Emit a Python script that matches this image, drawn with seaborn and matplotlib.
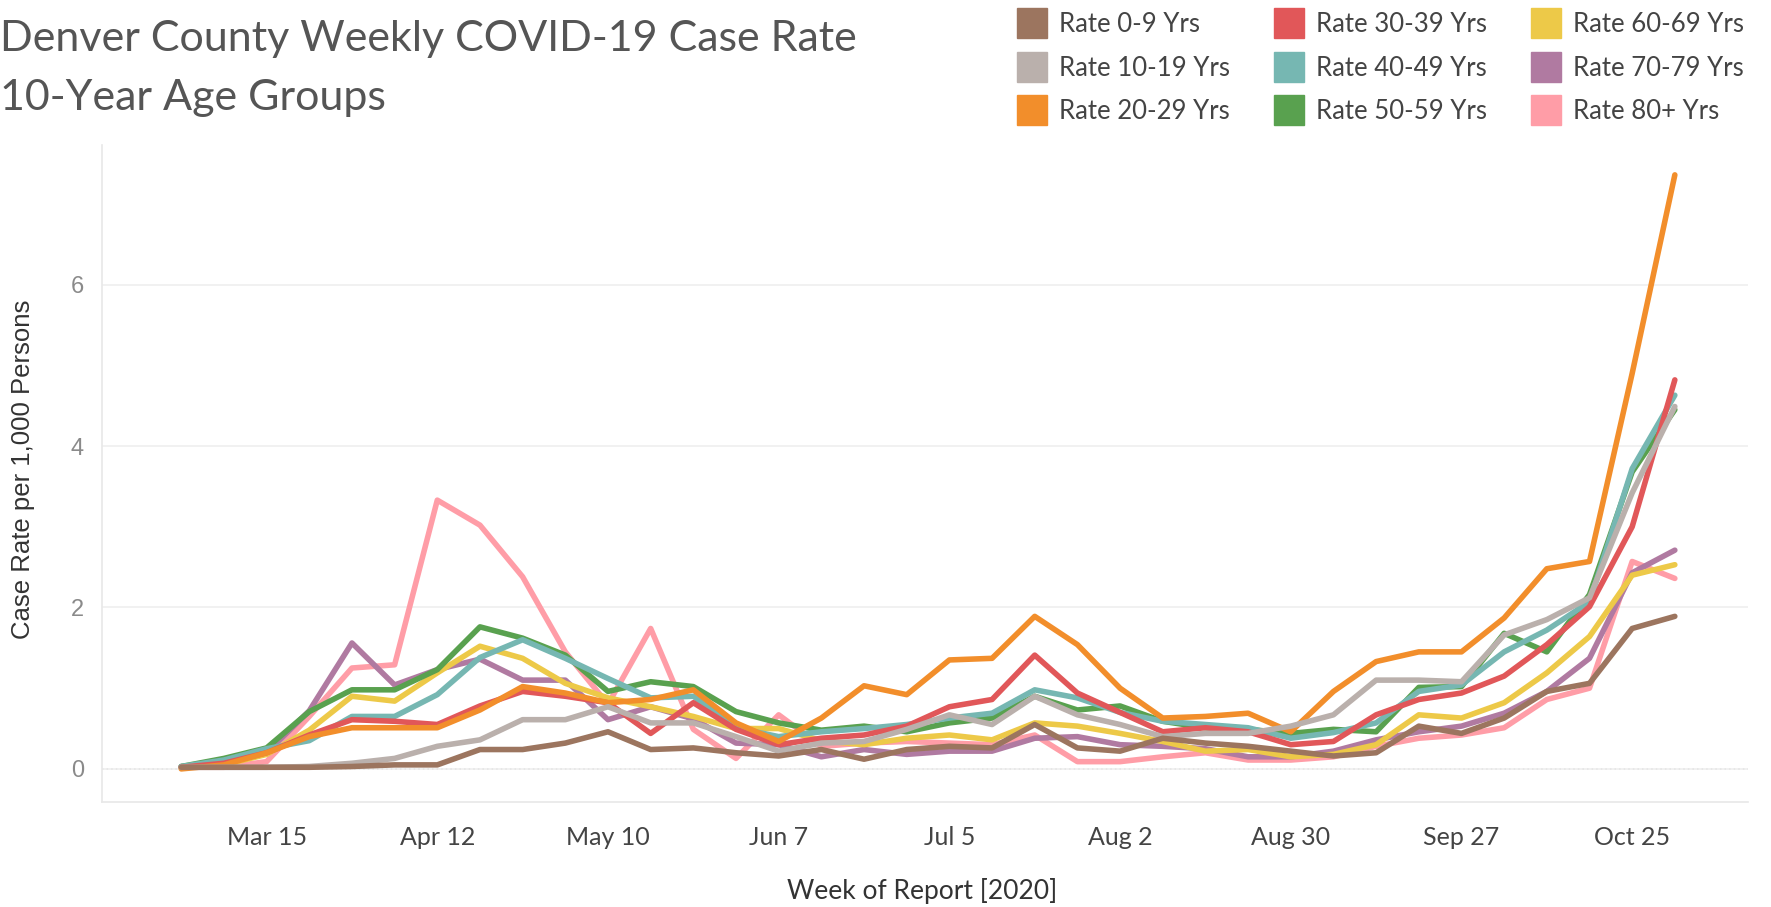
import numpy as np
import pandas as pd
import matplotlib
matplotlib.use("Agg")
import matplotlib.pyplot as plt
import matplotlib.dates as mdates
from matplotlib.lines import Line2D
import seaborn as sns

# ---------------- data ----------------
week_start = "2020-03-01"
n_weeks = 36
weeks = pd.date_range(week_start, periods=n_weeks, freq="7D")

groups = ["Rate 0-9 Yrs", "Rate 10-19 Yrs", "Rate 20-29 Yrs",
          "Rate 30-39 Yrs", "Rate 40-49 Yrs", "Rate 50-59 Yrs",
          "Rate 60-69 Yrs", "Rate 70-79 Yrs", "Rate 80+ Yrs"]

rate_0_9 = [0.02, 0.02, 0.02, 0.02, 0.03, 0.05, 0.05, 0.24, 0.24, 0.32, 0.46, 0.24,
            0.26, 0.20, 0.16, 0.24, 0.12, 0.24, 0.28, 0.26, 0.55, 0.26, 0.22, 0.38,
            0.32, 0.28, 0.22, 0.16, 0.20, 0.53, 0.44, 0.63, 0.96, 1.06, 1.74, 1.89]
rate_10_19 = [0.02, 0.02, 0.02, 0.03, 0.07, 0.13, 0.28, 0.36, 0.61, 0.61, 0.77, 0.57,
              0.57, 0.40, 0.22, 0.32, 0.34, 0.49, 0.67, 0.55, 0.90, 0.67, 0.55, 0.40,
              0.44, 0.44, 0.53, 0.67, 1.10, 1.10, 1.08, 1.66, 1.85, 2.12, 3.42, 4.49]
rate_20_29 = [0.00, 0.05, 0.20, 0.40, 0.51, 0.51, 0.51, 0.73, 1.02, 0.94, 0.82, 0.86,
              0.98, 0.57, 0.34, 0.63, 1.03, 0.92, 1.35, 1.37, 1.89, 1.54, 1.00, 0.63,
              0.65, 0.69, 0.46, 0.96, 1.33, 1.45, 1.45, 1.87, 2.48, 2.57, 4.90, 7.36]
rate_30_39 = [0.02, 0.07, 0.20, 0.42, 0.61, 0.59, 0.55, 0.78, 0.96, 0.90, 0.82, 0.44,
              0.82, 0.49, 0.30, 0.38, 0.42, 0.53, 0.77, 0.86, 1.41, 0.94, 0.70, 0.46,
              0.51, 0.46, 0.30, 0.34, 0.67, 0.86, 0.94, 1.15, 1.54, 2.01, 3.00, 4.82]
rate_40_49 = [0.03, 0.11, 0.25, 0.35, 0.65, 0.65, 0.92, 1.38, 1.60, 1.37, 1.12, 0.88,
              0.90, 0.51, 0.40, 0.46, 0.50, 0.55, 0.63, 0.69, 0.98, 0.88, 0.70, 0.59,
              0.55, 0.51, 0.38, 0.45, 0.57, 0.96, 1.04, 1.45, 1.72, 2.07, 3.72, 4.63]
rate_50_59 = [0.03, 0.13, 0.26, 0.71, 0.98, 0.98, 1.23, 1.76, 1.62, 1.41, 0.96, 1.08,
              1.02, 0.71, 0.57, 0.48, 0.53, 0.46, 0.57, 0.63, 0.90, 0.73, 0.78, 0.59,
              0.51, 0.49, 0.44, 0.49, 0.46, 1.01, 1.02, 1.68, 1.45, 2.16, 3.68, 4.45]
rate_60_69 = [0.02, 0.05, 0.18, 0.48, 0.90, 0.84, 1.19, 1.52, 1.37, 1.06, 0.88, 0.77,
              0.65, 0.50, 0.50, 0.35, 0.30, 0.38, 0.42, 0.36, 0.57, 0.53, 0.44, 0.34,
              0.22, 0.24, 0.15, 0.18, 0.30, 0.67, 0.63, 0.82, 1.19, 1.64, 2.40, 2.53]
rate_70_79 = [0.03, 0.05, 0.20, 0.72, 1.56, 1.04, 1.23, 1.36, 1.10, 1.10, 0.61, 0.77,
              0.62, 0.32, 0.30, 0.15, 0.24, 0.18, 0.22, 0.22, 0.38, 0.40, 0.30, 0.28,
              0.25, 0.15, 0.15, 0.22, 0.36, 0.46, 0.53, 0.69, 0.96, 1.37, 2.43, 2.71]
rate_80_plus = [0.02, 0.02, 0.09, 0.65, 1.25, 1.29, 3.33, 3.02, 2.38, 1.45, 0.80, 1.74,
                0.49, 0.13, 0.67, 0.28, 0.32, 0.34, 0.32, 0.30, 0.42, 0.09, 0.09, 0.15,
                0.20, 0.11, 0.11, 0.15, 0.28, 0.38, 0.42, 0.51, 0.86, 1.00, 2.57, 2.36]

series = [rate_0_9, rate_10_19, rate_20_29, rate_30_39, rate_40_49,
          rate_50_59, rate_60_69, rate_70_79, rate_80_plus]

colors = ["#9C755F", "#BAB0AC", "#F28E2B", "#E15759", "#76B7B2",
          "#59A14F", "#EDC948", "#B07AA1", "#FF9DA7"]

y_ticks = [0, 2, 4, 6]

title_line1 = "Denver County Weekly COVID-19 Case Rate"
title_line2 = "10-Year Age Groups"
x_title = "Week of Report [2020]"
y_title = "Case Rate per 1,000 Persons"

df = pd.DataFrame({
    "Week": np.tile(weeks, len(groups)),
    "Group": np.repeat(groups, n_weeks),
    "Rate": np.concatenate(series),
})

# ---------------- style ----------------
sns.set_theme(style="white")
plt.rcParams["font.family"] = ["Lato", "DejaVu Sans"]

W, H = 1771, 907
fig = plt.figure(figsize=(W / 100, H / 100), dpi=100)
ax_l, ax_r, ax_t, ax_b = 102, 1748, 145, 802
ax = fig.add_axes([ax_l / W, 1 - ax_b / H, (ax_r - ax_l) / W, (ax_b - ax_t) / H])

palette = dict(zip(groups, colors))
sns.lineplot(data=df, x="Week", y="Rate", hue="Group",
             hue_order=groups[::-1], palette=palette,
             linewidth=4.0, ax=ax, legend=False)

ax.set_xlim(pd.Timestamp("2020-02-17"), pd.Timestamp("2020-11-13"))
ax.set_ylim(-0.41, 7.73)

# gridlines and zero line
ax.set_yticks(y_ticks)
ax.yaxis.grid(True, color="#efefef", linewidth=1.2)
ax.xaxis.grid(False)
ax.axhline(0, color="#b0b0b0", linestyle=(0, (1, 2)), linewidth=1.1, zorder=0.5)

for s in ["top", "right"]:
    ax.spines[s].set_visible(False)
for s in ["left", "bottom"]:
    ax.spines[s].set_color("#e8e8e8")
    ax.spines[s].set_linewidth(1.2)

major_ticks = pd.date_range("2020-03-15", "2020-10-25", freq="28D")
ax.set_xticks(major_ticks)
ax.set_xticks(pd.date_range("2020-02-23", "2020-11-08", freq="7D"), minor=True)
ax.xaxis.set_major_formatter(mdates.DateFormatter("%b %-d"))

ax.tick_params(axis="x", which="major", length=7, color="#dddddd", width=1,
               labelsize=18, labelcolor="#444444", pad=10)
ax.tick_params(axis="x", which="minor", length=4, color="#e6e6e6", width=1)
ax.tick_params(axis="y", which="major", length=8, color="#efefef", width=1,
               labelsize=17, labelcolor="#8a8a8a", pad=5)
ax.set_yticklabels([str(t) for t in y_ticks], family=["Liberation Sans"])

ax.set_xlabel(x_title, fontsize=19, color="#333333")
ax.xaxis.set_label_coords((922 - ax_l) / (ax_r - ax_l), (ax_b - 891) / (ax_b - ax_t))
ax.set_ylabel(y_title, fontsize=18.5, color="#333333", family=["Liberation Sans"])
ax.yaxis.set_label_coords((23 - ax_l) / (ax_r - ax_l), (ax_b - 469) / (ax_b - ax_t))
ax.xaxis.label.set_va("center")
ax.yaxis.label.set_va("center")

# titles
fig.text(0.0, 1 - 39 / H, title_line1, fontsize=31, color="#555555", va="center", ha="left")
fig.text(0.0, 1 - 98 / H, title_line2, fontsize=31, color="#555555", va="center", ha="left")

# legend
handles = [Line2D([], [], marker="s", linestyle="", markersize=21,
                  markerfacecolor=c, markeredgecolor=c) for c in colors]
fig.legend(handles, groups, ncol=3, loc="upper left",
           bbox_to_anchor=(1019 / W, 1 - 12 / H), frameon=False,
           fontsize=18.5, labelcolor="#444444", handlelength=1.0,
           handletextpad=0.55, columnspacing=1.8, labelspacing=0.72,
           borderaxespad=0, borderpad=0)

fig.savefig("out.png", dpi=100, facecolor="white")
